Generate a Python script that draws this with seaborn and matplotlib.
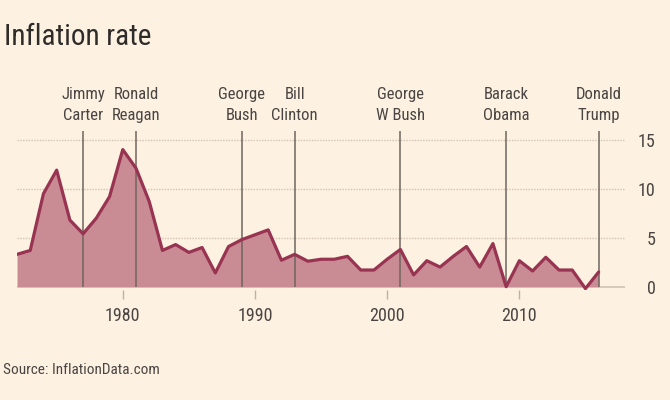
import matplotlib
matplotlib.use("Agg")
import matplotlib.pyplot as plt
import seaborn as sns
import pandas as pd

years = list(range(1972, 2017))
inflation = [3.3, 3.7, 9.5, 11.9, 6.8, 5.4, 7.0, 9.2, 14.0, 12.1,
             8.7, 3.7, 4.3, 3.5, 4.0, 1.4, 4.1, 4.8, 5.3, 5.8,
             2.7, 3.3, 2.6, 2.8, 2.8, 3.1, 1.7, 1.7, 2.8, 3.8,
             1.2, 2.65, 2.0, 3.1, 4.1, 2.0, 4.4, 0.0, 2.65, 1.6,
             3.0, 1.7, 1.7, -0.2, 1.5]
presidents = ["Jimmy\nCarter", "Ronald\nReagan", "George\nBush", "Bill\nClinton",
              "George\nW Bush", "Barack\nObama", "Donald\nTrump"]
president_years = [1977, 1981, 1989, 1993, 2001, 2009, 2016]
ytick_values = [0, 5, 10, 15]
xtick_values = [1980, 1990, 2000, 2010]

BG = "#FDF1E2"
FILL = "#CA8C94"
LINE = "#983452"
TEXT = "#4A4542"

sns.set_theme(style="white", rc={"figure.facecolor": BG, "axes.facecolor": BG})
FONT = ["Roboto Condensed", "DejaVu Sans"]
plt.rcParams["font.family"] = FONT

df = pd.DataFrame({"year": years, "rate": inflation})

fig = plt.figure(figsize=(6.7, 4.0), dpi=100)
ax = fig.add_axes([0.0254, 0.276, 0.933 - 0.0254, 0.675 - 0.276])
ax.set_xlim(1972, 2018)
ax.set_ylim(-0.3, 16)

# gridlines
for v in ytick_values[1:]:
    ax.axhline(v, color="#D2C3B3", lw=1.0, ls=(0, (1, 1)), zorder=0)
ax.axhline(0, color="#CFC3B4", lw=1.2, zorder=1)

ax.fill_between(df["year"], df["rate"], 0, color=FILL, lw=0, zorder=2)
sns.lineplot(data=df, x="year", y="rate", ax=ax, color=LINE, lw=2.3, zorder=4)

# president lines and labels
for name, yr in zip(presidents, president_years):
    ax.vlines(yr, 0, 15.9, color="#6E6660", lw=1.1, zorder=3)
    ax.text(yr, 16.75, name, ha="center", va="bottom", fontsize=12,
            color=TEXT, linespacing=1.45, family=FONT)

for s in ax.spines.values():
    s.set_visible(False)

ax.set_xticks(xtick_values)
ax.set_xticklabels([str(x) for x in xtick_values])
ax.set_yticks(ytick_values)
ax.set_yticklabels([str(v) for v in ytick_values])
ax.tick_params(axis="x", direction="out", length=6.5, width=1, color="#BDB2A6",
               pad=6, labelsize=13, labelcolor=TEXT, bottom=True)
ax.tick_params(axis="y", left=False, right=False, labelleft=False, labelright=True,
               pad=16, labelsize=13, labelcolor=TEXT)
for lbl in ax.get_yticklabels():
    lbl.set_horizontalalignment("right")
ax.set_xlabel("")
ax.set_ylabel("")

fig.text(0.006, 0.888, "Inflation rate", fontsize=21, color="#2F2B29",
         ha="left", va="baseline", family=FONT)
fig.text(0.004, 0.064, "Source: InflationData.com", fontsize=11, color=TEXT,
         ha="left", va="baseline", family=FONT)

fig.savefig("out.png", dpi=100, facecolor=BG)
